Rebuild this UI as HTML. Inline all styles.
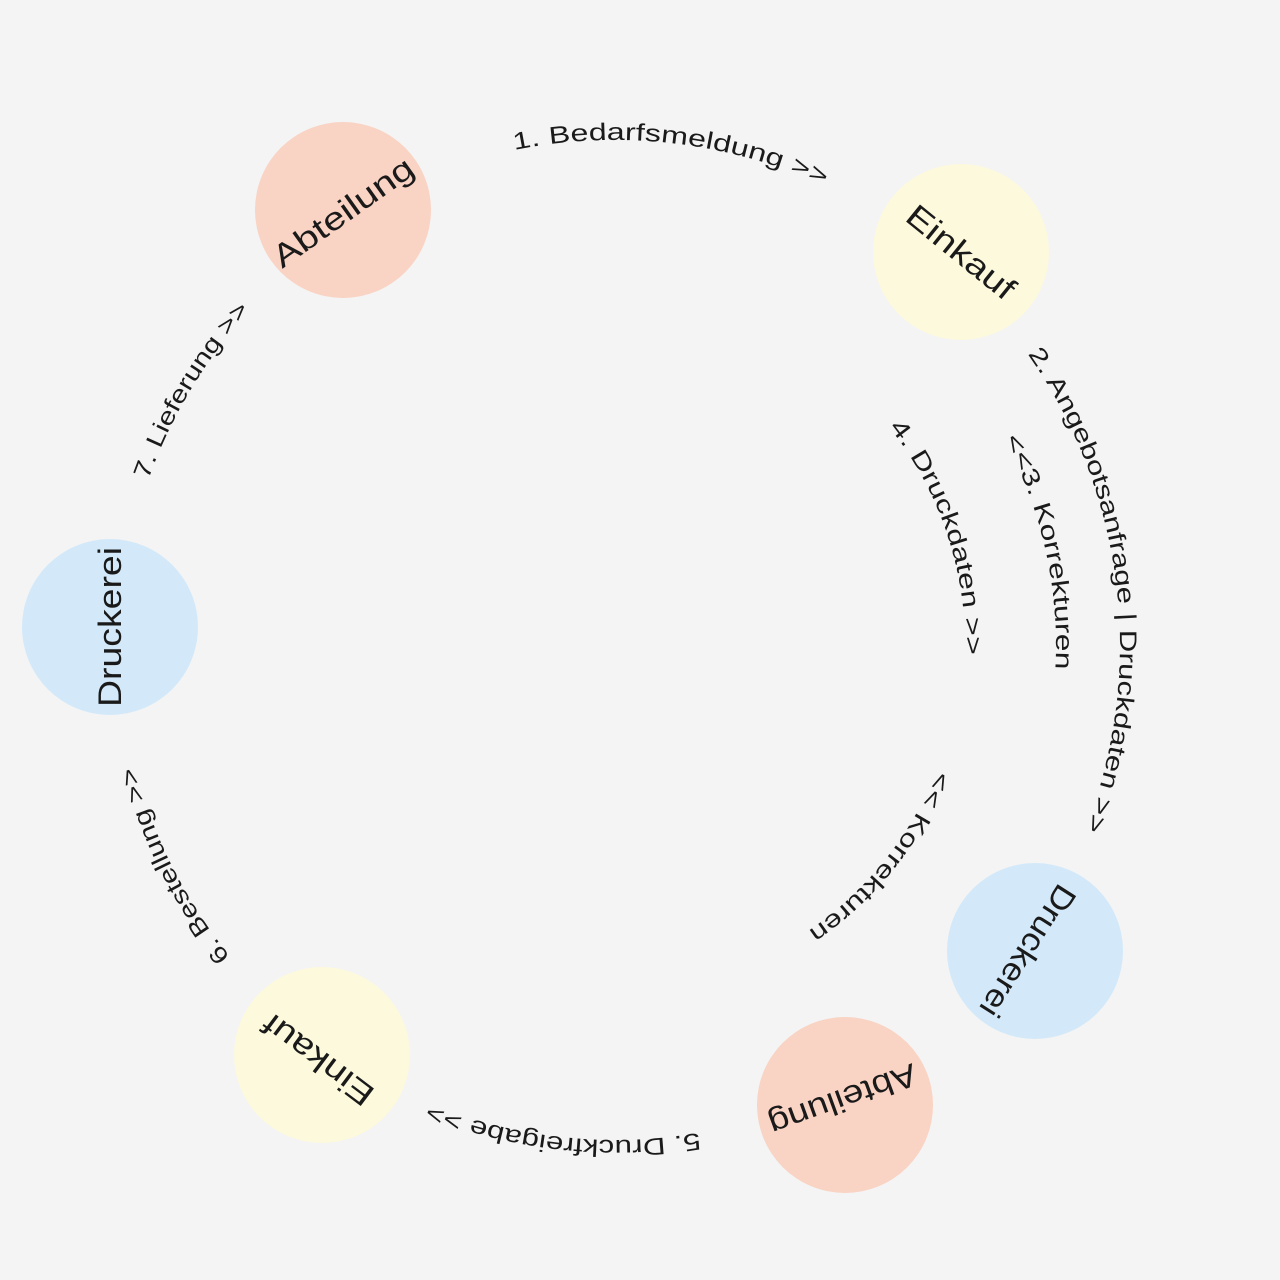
<!DOCTYPE html>
<html><head><meta charset="utf-8"><style>
html,body{margin:0;padding:0;background:#f4f4f4;}
svg{display:block;}
text{font-family:"Liberation Sans",sans-serif;fill:#1a1a1a;}
</style></head><body>
<svg width="1280" height="1280" viewBox="0 0 1280 1280" xmlns="http://www.w3.org/2000/svg">
<rect width="1280" height="1280" fill="#f4f4f4"/>
<defs>
<path id="p1" d="M514.4 150 A505 505 0 0 1 1093.7 805"/>
<path id="p2" d="M1027.6 354 A505 505 0 0 1 660.8 1148"/>
<path id="p7" d="M148.3 479.7 A495 495 0 0 1 991.4 323.5"/>
<path id="p6" d="M230.3 956.5 A495 495 0 0 1 537.6 156"/>
<path id="p5" d="M699.2 1132.7 A495 495 0 0 1 150.5 474"/>
<path id="p4" d="M889 427 A350 350 0 0 1 666.7 991"/>
<path id="p3" d="M1003.9 438.8 A435 435 0 0 1 602 1079.8"/>
<path id="pk" d="M936.5 770.3 A345 345 0 0 1 345.9 860.7"/>
</defs>
<circle cx="343" cy="210" r="88" fill="#f9d3c3"/>
<circle cx="961" cy="252" r="88" fill="#fdf9dc"/>
<circle cx="1035" cy="951" r="88" fill="#d3e9f9"/>
<circle cx="845" cy="1105" r="88" fill="#f9d3c3"/>
<circle cx="322" cy="1055" r="88" fill="#fdf9dc"/>
<circle cx="110" cy="627" r="88" fill="#d3e9f9"/>
<g font-size="32" text-anchor="middle" dominant-baseline="central">
<text transform="translate(343,212) rotate(-35.5)" textLength="165" lengthAdjust="spacingAndGlyphs">Abteilung</text>
<text transform="translate(961,252) rotate(39)" textLength="130" lengthAdjust="spacingAndGlyphs">Einkauf</text>
<text transform="translate(1028,951) rotate(122.6)" textLength="150" lengthAdjust="spacingAndGlyphs">Druckerei</text>
<text transform="translate(843,1100) rotate(160)" textLength="155" lengthAdjust="spacingAndGlyphs">Abteilung</text>
<text transform="translate(318,1060) rotate(217)" textLength="130" lengthAdjust="spacingAndGlyphs">Einkauf</text>
<text transform="translate(110,627) rotate(-90)" textLength="160" lengthAdjust="spacingAndGlyphs">Druckerei</text>
</g>
<g font-size="24">
<text><textPath href="#p1" textLength="317" lengthAdjust="spacingAndGlyphs">1. Bedarfsmeldung &gt;&gt;</textPath></text>
<text><textPath href="#p2" textLength="499" lengthAdjust="spacingAndGlyphs">2. Angebotsanfrage | Druckdaten &gt;&gt;</textPath></text>
<text><textPath href="#p7" textLength="199" lengthAdjust="spacingAndGlyphs">7. Lieferung &gt;&gt;</textPath></text>
<text><textPath href="#p6" textLength="214" lengthAdjust="spacingAndGlyphs">6. Bestellung &gt;&gt;</textPath></text>
<text><textPath href="#p5" textLength="275" lengthAdjust="spacingAndGlyphs">5. Druckfreigabe &gt;&gt;</textPath></text>
<text><textPath href="#p4" textLength="245" lengthAdjust="spacingAndGlyphs">4. Druckdaten &gt;&gt;</textPath></text>
<text><textPath href="#p3" textLength="239" lengthAdjust="spacingAndGlyphs">&lt;&lt;3. Korrekturen</textPath></text>
<text><textPath href="#pk" textLength="209" lengthAdjust="spacingAndGlyphs">&lt;&lt; Korrekturen</textPath></text>
</g>
</svg>
</body></html>
